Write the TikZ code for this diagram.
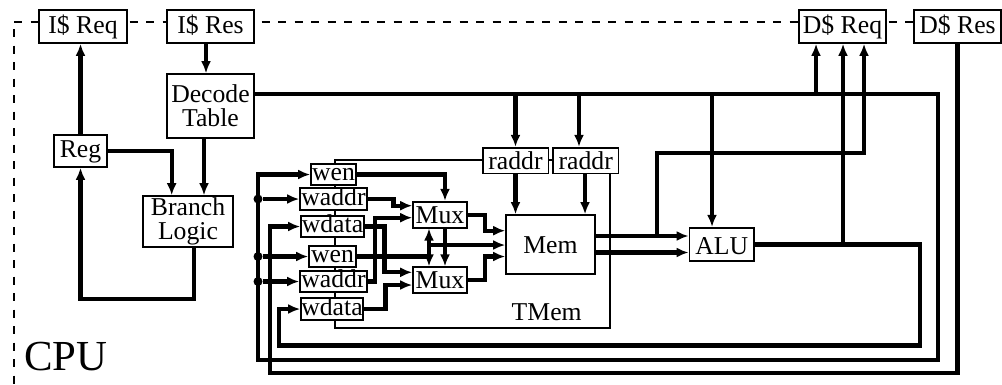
\documentclass[tikz,border=0pt]{standalone}
\usepackage{fontspec}
\setmainfont{Liberation Serif}
\usetikzlibrary{arrows.meta}
\pgfdeclarelayer{bg}
\pgfsetlayers{bg,main}
\begin{document}
\begin{tikzpicture}[x=1pt,y=-1pt,
  lbl/.style={font=\fontsize{25.7}{23.7}\selectfont},
  box/.style={lbl,draw,line width=1.6pt,fill=white,inner sep=0pt},
  bigbox/.style={box,text height=17.5pt,text depth=4pt},
  wbox/.style={box,minimum height=21pt,text height=17pt,text depth=4.5pt},
  capbox/.style={box,text height=17pt,text depth=0pt},
  twobox/.style={box,align=center},
  wire/.style={line width=4.3pt},
  arr/.style={wire,-{Latex[length=12pt,width=10pt]}},
  darr/.style={wire,{Latex[length=12pt,width=10pt]}-{Latex[length=12pt,width=10pt]}},
  tline/.style={line width=1.4pt},
  dashline/.style={line width=1.5pt,dash pattern=on 8pt off 8.5pt},
  dot/.style={circle,fill=black,inner sep=0pt,minimum size=9pt}
]
\useasboundingbox (0,0) rectangle (1002,384);

% top boxes
\node[bigbox,minimum width=88pt,minimum height=33pt] (ireq) at (83,26.5) {I\$ Req};
\node[bigbox,minimum width=87pt,minimum height=33pt] (ires) at (210.5,26.5) {I\$ Res};
\node[bigbox,minimum width=87pt,minimum height=33pt] (dreq) at (842.5,26.5) {D\$ Req};
\node[bigbox,minimum width=87pt,minimum height=33pt] (dres) at (957.5,26.5) {D\$ Res};

% left part
\node[twobox,minimum width=87pt,minimum height=64pt] (decode) at (210.5,106) {Decode\\Table};
\node[bigbox,minimum width=53pt,minimum height=32pt] (reg) at (80.5,151) {Reg};
\node[twobox,minimum width=90pt,minimum height=51pt] (branch) at (188,221.5) {Branch\\Logic};

% write ports
\node[wbox,minimum width=45pt] (wen1) at (333.5,174.5) {wen};
\node[wbox,minimum width=67pt] (waddr1) at (333.5,199) {waddr};
\node[wbox,minimum width=63pt] (wdata1) at (332.5,226.5) {wdata};
\node[wbox,minimum width=47pt] (wen2) at (332.5,256.5) {wen};
\node[wbox,minimum width=67pt] (waddr2) at (333.5,281.5) {waddr};
\node[wbox,minimum width=62pt] (wdata2) at (332,309) {wdata};

% muxes, read ports, memory, ALU
\node[capbox,minimum width=54pt,minimum height=26pt] (mux1) at (440,214.7) {Mux};
\node[capbox,minimum width=54pt,minimum height=26pt] (mux2) at (440,280.2) {Mux};
\node[capbox,minimum width=65.6pt,minimum height=25.6pt] (raddr1) at (515.5,160.5) {raddr};
\node[capbox,minimum width=65.3pt,minimum height=25.6pt] (raddr2) at (585.7,160.5) {raddr};
\node[capbox,minimum width=89pt,minimum height=59pt] (mem) at (550.5,244.5) {Mem};
\node[box,text height=20pt,text depth=0pt,minimum width=64.7pt,minimum height=33.3pt] (alu) at (721.7,244.4) {ALU};

% labels
\node[lbl,anchor=base,inner sep=0pt] (tmem) at (546.7,320) {TMem};
\node[anchor=base west,inner sep=0pt,font=\fontsize{42.8}{45}\selectfont] (cpu) at (23.8,370) {CPU};

% junction dots
\node[dot] (j1) at (258,0 |- waddr1.west) {};
\node[dot] (j2) at (258,0 |- wen2.west) {};
\node[dot] (j3) at (258,0 |- waddr2.west) {};

\begin{pgfonlayer}{bg}
% CPU border
\draw[dashline] (14,22) -- (1002,22);
\draw[dashline] (14,29) -- (14,384);
% TMem outline
\draw[tline] (335,160) rectangle (610,328);

% fetch / branch
\draw[arr] (reg.north) -- (reg.north |- ireq.south);
\draw[arr] (206,0 |- ires.south) -- (206,0 |- decode.north);
\draw[arr] (reg.east) -| (171.7,0 |- branch.north);
\draw[arr] (204,0 |- decode.south) -- (204,0 |- branch.north);
\draw[arr] (194,0 |- branch.south) -- (194,299) -| (reg.south);

% decode trunk
\coordinate (dtrunk) at ([yshift=11.7pt]decode.east);
\draw[arr] (dtrunk) -| (938,360) -| (258,0 |- wen1.west) -- (wen1.west);
\draw[arr] (raddr1.north |- dtrunk) -- (raddr1.north);
\draw[arr] (579,0 |- dtrunk) -- (579,0 |- raddr2.north);
\draw[arr] (712,0 |- dtrunk) -- (712,0 |- alu.north);
\draw[arr] (816,0 |- dtrunk) -- (816,0 |- dreq.south);
\draw[arr] (j1) -- (waddr1.west);
\draw[arr] (j2) -- (wen2.west);
\draw[arr] (j3) -- (waddr2.west);

% D$ response
\draw[arr] (dres.south) |- (270,373) |- (wdata1.west);

% ALU output
\draw[arr] (alu.east) -| (920,345.5) -| (279,0 |- wdata2.west) -- (wdata2.west);
\draw[arr] (843,0 |- alu.east) -- (843,0 |- dreq.south);

% memory outputs
\draw[arr] (mem.east |- 0,236) -- (alu.west |- 0,236);
\draw[arr] (mem.east |- 0,252.5) -- (alu.west |- 0,252.5);
\draw[arr] (657,236) |- (864,153.3) -- (864,0 |- dreq.south);

% read ports
\draw[arr] (raddr1.south) -- (raddr1.south |- mem.north);
\draw[arr] (585,0 |- raddr2.south) -- (585,0 |- mem.north);

% write ports to muxes
\draw[arr] (wen1.east) -| (445,0 |- mux1.north);
\draw[arr] (445,0 |- mux1.south) -- (445,0 |- mux2.north);
\draw[arr] (waddr1.east) -| (393.5,205.7) -- (mux1.west |- 0,205.7);
\draw[arr] (wdata1.east) -| (384.5,272.3) -- (mux2.west |- 0,272.3);
\draw[wire] (wen2.east) -- (431,0 |- wen2.east);
\draw[darr] (429,0 |- mux1.south) -- (429,0 |- mux2.north);
\draw[arr] (429,245) -- (mem.west |- 0,245);
\draw[arr] (waddr2.east) -| (375,217.7) -- (mux1.west |- 0,217.7);
\draw[arr] (wdata2.east) -| (385.5,285) -- (mux2.west |- 0,285);

% muxes to memory
\draw[arr] (mux1.east) -| (485,230.7) -- (mem.west |- 0,230.7);
\draw[arr] (mux2.east) -| (485,256.5) -- (mem.west |- 0,256.5);
\end{pgfonlayer}
\end{tikzpicture}
\end{document}
